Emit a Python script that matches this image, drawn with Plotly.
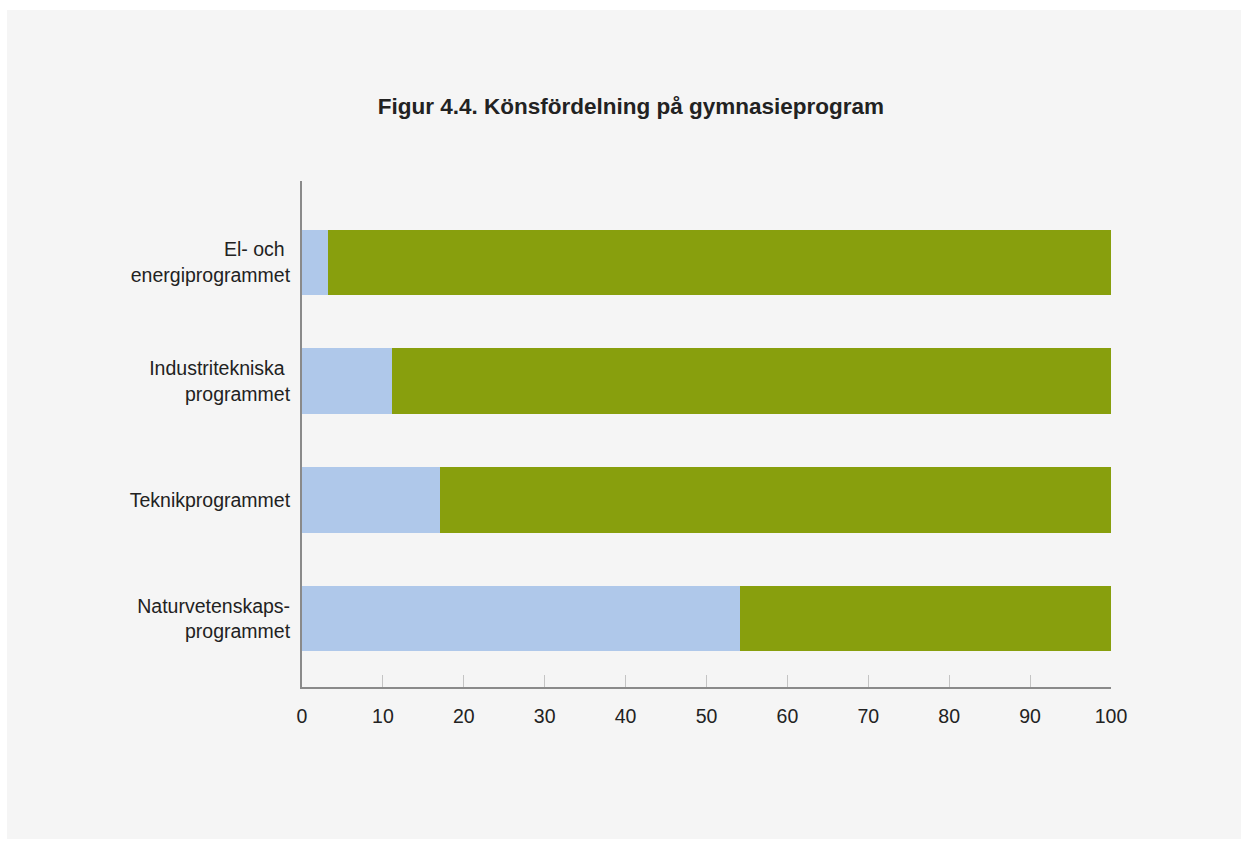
import plotly.graph_objects as go

# Program categories, listed bottom to top
programs = [
    "Naturvetenskaps-<br>programmet",
    "Teknikprogrammet",
    "Industritekniska <br>programmet",
    "El- och <br>energiprogrammet",
]
# Share (%) per program
girls = [54.1, 17.1, 11.1, 3.2]
boys = [45.9, 82.9, 88.9, 96.8]
x_ticks = [0, 10, 20, 30, 40, 50, 60, 70, 80, 90, 100]

BG = "#f5f5f5"
TEXT = "#222222"

fig = go.Figure()
fig.add_trace(go.Bar(
    y=programs, x=girls, orientation="h", name="Flickor",
    marker=dict(color="#afc8ea", line=dict(width=0)), width=0.55,
    hoverinfo="skip",
))
fig.add_trace(go.Bar(
    y=programs, x=boys, orientation="h", name="Pojkar",
    marker=dict(color="#889f0d", line=dict(width=0)), width=0.55,
    hoverinfo="skip",
))

# margins of the plotting area in pixels
L, R, T, B = 302, 131, 181, 154
W, H = 1242, 841
pw, ph = W - L - R, H - T - B

fig.update_layout(
    width=W, height=H,
    barmode="stack",
    showlegend=False,
    bargap=0.45,
    paper_bgcolor="white",
    plot_bgcolor=BG,
    margin=dict(l=L, r=R, t=T, b=B, pad=0),
    font=dict(family="Liberation Sans, Arial, sans-serif", size=19, color=TEXT),
    title=dict(
        text="<b>Figur 4.4. Könsfördelning på gymnasieprogram</b>",
        font=dict(size=22.5, color=TEXT),
        x=0.508, xanchor="center", xref="container",
        y=1 - 106 / H, yanchor="middle", yref="container",
    ),
    xaxis=dict(
        range=[0, 100], tickvals=x_ticks, ticktext=[str(v) for v in x_ticks],
        showgrid=False, zeroline=False,
        showline=True, linecolor="#8a8a8a", linewidth=2,
        ticks="inside", ticklen=12, tickcolor="#c4c4c4", tickwidth=1,
        ticklabelstandoff=11,
        tickfont=dict(size=19.5, color=TEXT),
        fixedrange=True,
    ),
    yaxis=dict(
        type="category", range=[-0.575, 3.684],
        showgrid=False, zeroline=False,
        showline=True, linecolor="#8a8a8a", linewidth=2,
        ticks="", ticklabelstandoff=6,
        tickfont=dict(size=19.5, color=TEXT),
        fixedrange=True,
    ),
    shapes=[dict(
        type="rect", xref="paper", yref="paper", layer="below",
        x0=(7 - L) / pw, x1=(1241 - L) / pw,
        y0=(T + ph - 839) / ph, y1=(T + ph - 10) / ph,
        fillcolor=BG, line=dict(width=0),
    )],
)

fig.write_html("out.html")
